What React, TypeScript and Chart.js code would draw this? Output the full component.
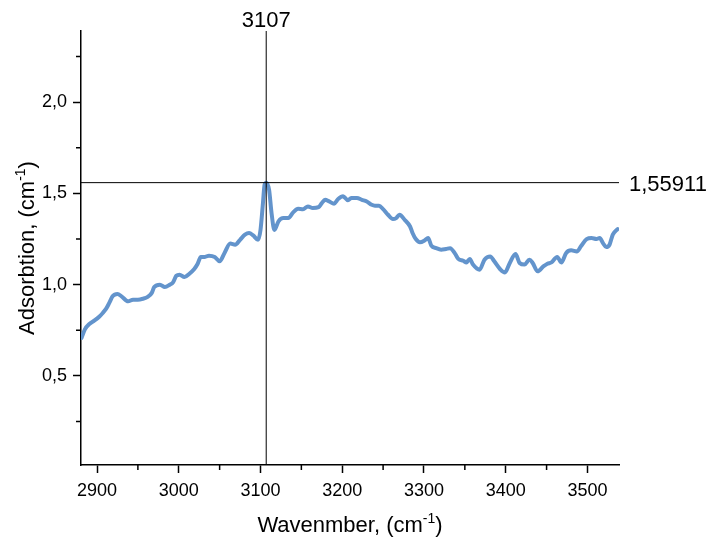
import { useEffect, useRef } from 'react';
import { Chart, registerables } from 'chart.js';

Chart.register(...registerables);

// IR spectrum: wavenumber (cm-1) against absorbance
const WAVENUMBERS = [
  2881, 2885, 2891, 2897, 2903, 2907, 2911, 2915, 2919, 2925,
  2930, 2938, 2944, 2950, 2956, 2962, 2967, 2970, 2977, 2983,
  2989, 2993, 2997, 3001, 3007, 3013, 3019, 3023, 3027, 3032,
  3037, 3044, 3050, 3056, 3063, 3069, 3075, 3081, 3086, 3091,
  3097, 3100, 3103, 3105, 3107, 3110.5, 3113.5, 3117, 3122, 3128,
  3134, 3140, 3146, 3152, 3158, 3164, 3171, 3175, 3179, 3184,
  3190, 3195, 3201, 3207, 3211, 3218, 3224, 3230, 3236, 3240,
  3245, 3250, 3256, 3262, 3266, 3270, 3277, 3283, 3286, 3290,
  3295, 3301, 3305, 3309, 3315, 3321, 3327, 3332, 3338, 3342,
  3348, 3352, 3356, 3360, 3368, 3374, 3381, 3386, 3393, 3399,
  3405, 3412, 3417, 3423, 3429, 3433, 3439, 3446, 3451, 3456,
  3463, 3468, 3474, 3480, 3487, 3492, 3499, 3505, 3511, 3515,
  3519, 3523, 3527, 3531, 3537,
];

const ABSORBANCE = [
  0.708, 0.754, 0.786, 0.804, 0.826, 0.845, 0.867, 0.9, 0.936, 0.949,
  0.936, 0.909, 0.918, 0.918, 0.923, 0.933, 0.955, 0.987, 1.0, 0.987,
  1.0, 1.013, 1.049, 1.055, 1.042, 1.06, 1.086, 1.113, 1.152, 1.152,
  1.159, 1.152, 1.128, 1.174, 1.225, 1.219, 1.246, 1.274, 1.283, 1.27,
  1.246, 1.3, 1.447, 1.548, 1.55911, 1.52, 1.393, 1.3, 1.347, 1.365,
  1.365, 1.396, 1.416, 1.414, 1.429, 1.42, 1.425, 1.447, 1.465, 1.456,
  1.444, 1.469, 1.484, 1.462, 1.475, 1.475, 1.465, 1.456, 1.438, 1.433,
  1.433, 1.414, 1.383, 1.36, 1.365, 1.383, 1.352, 1.319, 1.283, 1.25,
  1.232, 1.243, 1.256, 1.214, 1.2, 1.192, 1.196, 1.2, 1.17, 1.141,
  1.131, 1.122, 1.141, 1.11, 1.082, 1.137, 1.155, 1.128, 1.086, 1.067,
  1.119, 1.168, 1.119, 1.11, 1.137, 1.119, 1.073, 1.1, 1.115, 1.122,
  1.152, 1.122, 1.174, 1.188, 1.182, 1.21, 1.25, 1.256, 1.25, 1.256,
  1.228, 1.206, 1.219, 1.274, 1.305,
];

// Marked peak
const PEAK_WAVENUMBER = 3107;
const PEAK_ABSORBANCE = 1.55911;

// Axis ranges and tick steps
const X_MIN = 2880.4;
const X_MAX = 3538.6;
const X_MAJOR = 100;
const X_MINOR = 50;
const Y_MIN = 0.012;
const Y_MAX = 2.39;
const Y_MAJOR = 0.5;
const Y_MINOR = 0.25;

// Axis titles: [text, superscript, closing]
const X_TITLE = ['Wavenmber, (cm', '-1', ')'];
const Y_TITLE = ['Adsorbtion, (cm', '-1', ')'];

const FONT = "'Liberation Sans', Arial, Helvetica, sans-serif";
const LINE_COLOR = 'rgb(99, 148, 204)';

const fmtComma = (v: number, digits: number) => v.toFixed(digits).replace('.', ',');

function drawSupText(ctx: CanvasRenderingContext2D, parts: string[], cx: number, baseline: number, size: number) {
  const [a, sup, b] = parts;
  const big = `${size}px ${FONT}`;
  const small = `${Math.round(size * 0.62)}px ${FONT}`;
  ctx.font = big;
  const wa = ctx.measureText(a).width;
  const wb = ctx.measureText(b).width;
  ctx.font = small;
  const ws = ctx.measureText(sup).width;
  let x = cx - (wa + ws + wb) / 2;
  ctx.textAlign = 'left';
  ctx.textBaseline = 'alphabetic';
  ctx.font = big;
  ctx.fillText(a, x, baseline);
  x += wa;
  ctx.font = small;
  ctx.fillText(sup, x, baseline - size * 0.4);
  x += ws;
  ctx.font = big;
  ctx.fillText(b, x, baseline);
}

const decorations = {
  id: 'spectrumDecorations',
  afterDraw(chart: any) {
    const { ctx, chartArea, scales } = chart;
    const xs = scales.x;
    const ys = scales.y;
    ctx.save();
    ctx.strokeStyle = '#000';
    ctx.fillStyle = '#000';

    // minor ticks
    ctx.lineWidth = 1.5;
    ctx.beginPath();
    for (let v = Math.ceil(X_MIN / X_MINOR) * X_MINOR; v <= X_MAX; v += X_MINOR) {
      if (Math.round(v / X_MINOR) % 2 === 0) continue;
      const px = xs.getPixelForValue(v);
      ctx.moveTo(px, chartArea.bottom);
      ctx.lineTo(px, chartArea.bottom + 5);
    }
    for (let i = Math.ceil(Y_MIN / Y_MINOR); i * Y_MINOR <= Y_MAX; i++) {
      if (i % 2 === 0) continue;
      const py = ys.getPixelForValue(i * Y_MINOR);
      ctx.moveTo(chartArea.left - 5, py);
      ctx.lineTo(chartArea.left, py);
    }
    ctx.stroke();

    // peak marker lines
    const px = xs.getPixelForValue(PEAK_WAVENUMBER);
    const py = ys.getPixelForValue(PEAK_ABSORBANCE);
    ctx.lineWidth = 1;
    ctx.beginPath();
    ctx.moveTo(px, chartArea.top);
    ctx.lineTo(px, chartArea.bottom);
    ctx.moveTo(chartArea.left, py);
    ctx.lineTo(chartArea.right, py);
    ctx.stroke();

    ctx.font = `22px ${FONT}`;
    ctx.textAlign = 'center';
    ctx.textBaseline = 'alphabetic';
    ctx.fillText(String(PEAK_WAVENUMBER), px, chartArea.top - 4);
    ctx.textAlign = 'left';
    ctx.fillText(fmtComma(PEAK_ABSORBANCE, 5), chartArea.right + 10, py + 8);

    // axis titles
    drawSupText(ctx, X_TITLE, (chartArea.left + chartArea.right) / 2, 532, 22);
    ctx.translate(34, (chartArea.top + chartArea.bottom) / 2);
    ctx.rotate(-Math.PI / 2);
    drawSupText(ctx, Y_TITLE, 0, 0, 22);
    ctx.restore();
  },
};

export default function App() {
  const canvasRef = useRef<HTMLCanvasElement | null>(null);

  useEffect(() => {
    document.body.style.margin = '0';
    const canvas = canvasRef.current;
    if (!canvas) return;
    const points = WAVENUMBERS.map((w, i) => ({ x: w, y: ABSORBANCE[i] }));
    const tickFont = { family: FONT, size: 18 };
    const chart = new Chart(canvas, {
      type: 'line',
      data: {
        datasets: [
          {
            data: points,
            borderColor: LINE_COLOR,
            borderWidth: 4,
            pointRadius: 0,
            cubicInterpolationMode: 'monotone',
            borderCapStyle: 'round',
            borderJoinStyle: 'round',
          },
        ],
      },
      options: {
        animation: false,
        responsive: false,
        devicePixelRatio: 1,
        layout: { padding: { left: 0, top: 31, right: 95, bottom: 0 } },
        plugins: { legend: { display: false }, tooltip: { enabled: false } },
        scales: {
          x: {
            type: 'linear',
            min: X_MIN,
            max: X_MAX,
            border: { display: true, color: '#000', width: 1.5 },
            grid: { drawOnChartArea: false, tickLength: 8, tickWidth: 1.5, tickColor: '#000' },
            ticks: {
              stepSize: X_MAJOR,
              includeBounds: false,
              color: '#000',
              font: tickFont,
              padding: 7,
              maxRotation: 0,
              callback: (v: any) => String(v),
            },
            afterFit: (s: any) => {
              s.height = 77;
              s.paddingLeft = 0;
              s.paddingRight = 0;
            },
          },
          y: {
            type: 'linear',
            min: Y_MIN,
            max: Y_MAX,
            border: { display: true, color: '#000', width: 1.5 },
            grid: { drawOnChartArea: false, tickLength: 8, tickWidth: 1.5, tickColor: '#000' },
            ticks: {
              stepSize: Y_MAJOR,
              includeBounds: false,
              color: '#000',
              font: tickFont,
              padding: 6,
              callback: (v: any) => fmtComma(Number(v), 1),
            },
            afterFit: (s: any) => {
              s.width = 81;
            },
          },
        },
      },
      plugins: [decorations],
    });
    return () => chart.destroy();
  }, []);

  return (
    <div style={{ width: 714, height: 542, background: '#fff' }}>
      <canvas ref={canvasRef} width={714} height={542} style={{ display: 'block' }} />
    </div>
  );
}
